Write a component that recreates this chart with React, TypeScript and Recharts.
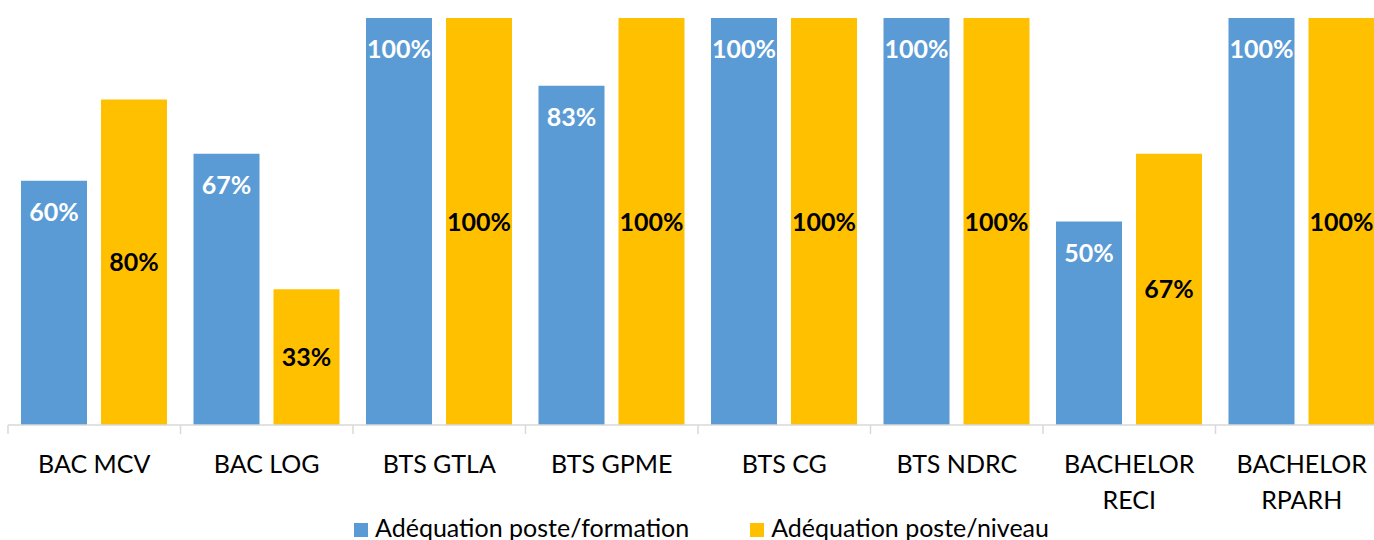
import React from "react";
import { BarChart, Bar, XAxis, YAxis, Legend, LabelList } from "recharts";

const categories = [
  "BAC MCV",
  "BAC LOG",
  "BTS GTLA",
  "BTS GPME",
  "BTS CG",
  "BTS NDRC",
  "BACHELOR\nRECI",
  "BACHELOR\nRPARH",
];
const formation = [60, 66.67, 100, 83.33, 100, 100, 50, 100];
const niveau = [80, 33.33, 100, 100, 100, 100, 66.67, 100];
const seriesNames = ["Adéquation poste/formation", "Adéquation poste/niveau"];

const data = categories.map((c, i) => ({ name: c, formation: formation[i], niveau: niveau[i] }));

const FONT = "Lato, 'Open Sans', sans-serif";
const CHART_W = 1388;
const MARGIN = { top: 18, right: 0, bottom: 0, left: 8 };
const BAND = (CHART_W - MARGIN.left - MARGIN.right) / categories.length;

const CatTick = (props: any) => {
  const { x, y, payload, index } = props;
  const lines = String(payload.value).split("\n");
  const half = BAND / 2;
  return (
    <g>
      <line x1={x - half} x2={x - half} y1={y} y2={y + 9} stroke="#D9D9D9" strokeWidth={1.5} />
      {index === categories.length - 1 && (
        <line x1={x + half} x2={x + half} y1={y} y2={y + 9} stroke="#D9D9D9" strokeWidth={1.5} />
      )}
      <text x={x} textAnchor="middle" fontFamily={FONT} fontSize={25} fill="#000">
        {lines.map((l, i) => (
          <tspan key={i} x={x} y={y + 48 + i * 36}>
            {l}
          </tspan>
        ))}
      </text>
    </g>
  );
};

const BlueLabel = (p: any) => {
  const x = Number(p.x), y = Number(p.y), w = Number(p.width);
  return (
    <text x={x + w / 2} y={y + 40} textAnchor="middle" fill="#fff" fontFamily={FONT} fontWeight={700} fontSize={25}>
      {Math.round(Number(p.value))}%
    </text>
  );
};

const YellowLabel = (p: any) => {
  const x = Number(p.x), y = Number(p.y), w = Number(p.width), h = Number(p.height);
  return (
    <text x={x + w / 2} y={y + h / 2 + 9} textAnchor="middle" fill="#000" fontFamily={FONT} fontWeight={700} fontSize={25}>
      {Math.round(Number(p.value))}%
    </text>
  );
};

const LegendContent = (props: any) => {
  const payload = props.payload || [];
  return (
    <div
      style={{
        height: 30,
        lineHeight: "30px",
        display: "flex",
        justifyContent: "center",
        fontFamily: FONT,
        fontSize: 25,
        color: "#000",
        whiteSpace: "nowrap",
        paddingLeft: 7,
      }}
    >
      {payload.map((e: any, i: number) => (
        <span key={i} style={{ marginLeft: i === 0 ? 0 : 61 }}>
          <span
            style={{
              display: "inline-block",
              width: 14,
              height: 14,
              background: e.color,
              verticalAlign: "baseline",
              marginRight: 7,
            }}
          />
          {e.value}
        </span>
      ))}
    </div>
  );
};

export default function App() {
  return (
    <div style={{ position: "fixed", left: 0, top: 0, width: 1374, height: 540, overflow: "hidden", background: "#fff" }}>
      <BarChart width={CHART_W} height={540} data={data} margin={MARGIN} barSize={66} barGap={14}>
        <XAxis
          dataKey="name"
          height={85}
          interval={0}
          tickSize={0}
          tickMargin={0}
          tickLine={false}
          axisLine={{ stroke: "#D9D9D9", strokeWidth: 1.5 }}
          tick={<CatTick />}
        />
        <YAxis hide domain={[0, 100]} />
        <Legend verticalAlign="bottom" content={<LegendContent />} wrapperStyle={{ bottom: -2 }} />
        <Bar dataKey="formation" name={seriesNames[0]} fill="#5B9BD5" isAnimationActive={false}>
          <LabelList dataKey="formation" content={<BlueLabel />} />
        </Bar>
        <Bar dataKey="niveau" name={seriesNames[1]} fill="#FFC000" isAnimationActive={false}>
          <LabelList dataKey="niveau" content={<YellowLabel />} />
        </Bar>
      </BarChart>
    </div>
  );
}
